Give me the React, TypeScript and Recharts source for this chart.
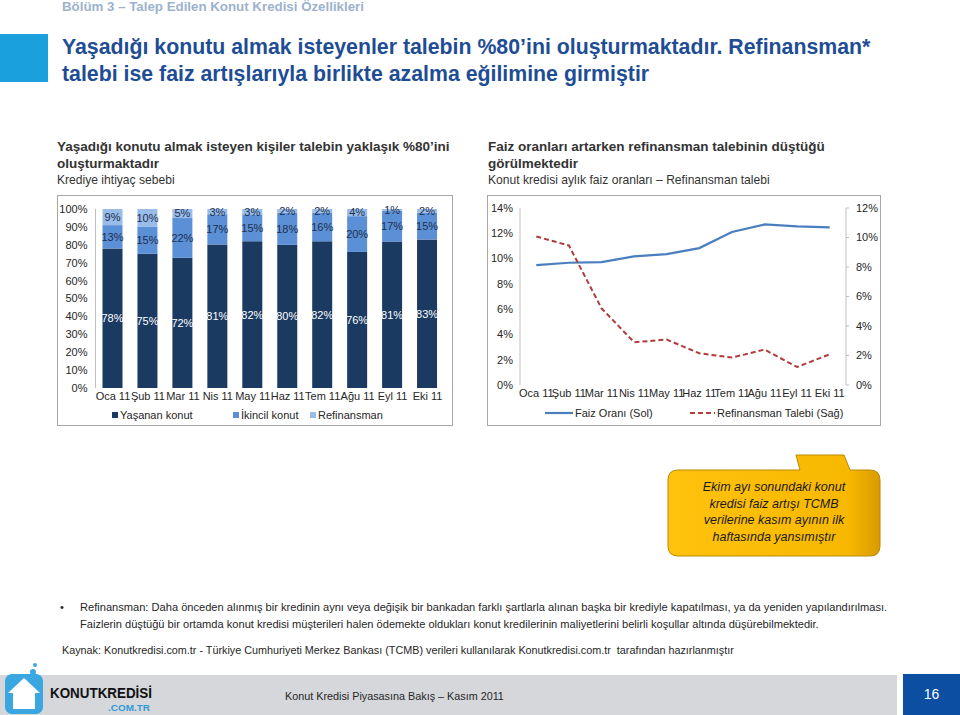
import React from 'react';
import { BarChart, Bar, XAxis, YAxis, LabelList, LineChart, Line } from 'recharts';

// months shared by both charts
const months = ['Oca 11', 'Şub 11', 'Mar 11', 'Nis 11', 'May 11', 'Haz 11', 'Tem 11', 'Ağu 11', 'Eyl 11', 'Eki 11'];

// Krediye ihtiyaç sebebi (%)
const yasananKonut = [78, 75, 72, 81, 82, 80, 82, 76, 81, 83];
const ikincilKonut = [13, 15, 22, 17, 15, 18, 16, 20, 17, 15];
const refinansman = [9, 10, 5, 3, 3, 2, 2, 4, 1, 2];
const barTicks = [0, 0.1, 0.2, 0.3, 0.4, 0.5, 0.6, 0.7, 0.8, 0.9, 1];

// Konut kredisi faiz oranı (sol) ve refinansman talebi (sağ), %
const faizOrani = [9.48, 9.67, 9.72, 10.17, 10.35, 10.83, 12.1, 12.7, 12.55, 12.47];
const refinansmanTalebi = [10.07, 9.46, 5.2, 2.9, 3.08, 2.15, 1.86, 2.4, 1.22, 2.08];
const leftTicks = [0, 2, 4, 6, 8, 10, 12, 14];
const rightTicks = [0, 2, 4, 6, 8, 10, 12];

const NAVY = '#1B3A62';
const MID = '#5B8FD6';
const LIGHT = '#99BCE8';
const FAIZ = '#4A7EBE';
const REF = '#B03C3C';

const barData = months.map((m, i) => ({
  month: m,
  yasanan: yasananKonut[i],
  ikincil: ikincilKonut[i],
  refinansman: refinansman[i],
}));

const lineData = months.map((m, i) => ({
  month: m,
  faiz: faizOrani[i],
  ref: refinansmanTalebi[i],
}));

const SANS = '"Liberation Sans", Arial, sans-serif';
const tickStyle = { fontSize: 11, fill: '#262626', fontFamily: SANS };

function ReasonChart() {
  return (
    <BarChart
      width={394}
      height={229}
      data={barData}
      stackOffset="expand"
      margin={{ top: 13, right: 7, left: 0, bottom: 17 }}
    >
      <XAxis dataKey="month" tick={tickStyle} tickLine={false} axisLine={false} tickSize={4} tickMargin={0} height={20} interval={0} />
      <YAxis
        domain={[0, 1]}
        ticks={barTicks}
        tickFormatter={(v) => `${Math.round(v * 100)}%`}
        tick={tickStyle}
        width={37.5}
        tickLine={false}
        tickSize={3}
        tickMargin={5}
        axisLine={{ stroke: '#BFBFBF' }}
        interval={0}
      />
      <Bar dataKey="yasanan" stackId="a" fill={NAVY} barSize={20} isAnimationActive={false}>
        <LabelList dataKey="yasanan" position="center" formatter={(v: any) => `${v}%`} fill="#FFFFFF" fontSize={11} fontFamily={SANS} />
      </Bar>
      <Bar dataKey="ikincil" stackId="a" fill={MID} barSize={20} isAnimationActive={false}>
        <LabelList dataKey="ikincil" position="center" formatter={(v: any) => `${v}%`} fill="#1B2F4F" fontSize={11} fontFamily={SANS} />
      </Bar>
      <Bar dataKey="refinansman" stackId="a" fill={LIGHT} barSize={20} isAnimationActive={false}>
        <LabelList dataKey="refinansman" position="center" formatter={(v: any) => `${v}%`} fill="#1B2F4F" fontSize={11} fontFamily={SANS} />
      </Bar>
    </BarChart>
  );
}

function RateChart() {
  return (
    <LineChart width={392} height={229} data={lineData} margin={{ top: 12, right: 0, left: 0, bottom: 20 }}>
      <XAxis
        dataKey="month"
        tick={tickStyle}
        tickLine={false}
        axisLine={false}
        tickSize={4}
        tickMargin={0}
        height={20}
        interval={0}
        padding={{ left: 16.3, right: 16.3 }}
      />
      <YAxis
        yAxisId="left"
        domain={[0, 14]}
        ticks={leftTicks}
        tickFormatter={(v) => `${v}%`}
        tick={tickStyle}
        width={32}
        tickLine={false}
        tickSize={3}
        tickMargin={4}
        axisLine={{ stroke: '#BFBFBF' }}
        interval={0}
      />
      <YAxis
        yAxisId="right"
        orientation="right"
        domain={[0, 12]}
        ticks={rightTicks}
        tickFormatter={(v) => `${v}%`}
        tick={tickStyle}
        width={34}
        tickLine={{ stroke: '#BFBFBF' }}
        tickSize={3}
        tickMargin={7}
        axisLine={{ stroke: '#BFBFBF' }}
        interval={0}
      />
      <Line yAxisId="left" dataKey="faiz" stroke={FAIZ} strokeWidth={2.2} dot={false} isAnimationActive={false} />
      <Line yAxisId="right" dataKey="ref" stroke={REF} strokeWidth={2} strokeDasharray="5 3" dot={false} isAnimationActive={false} />
    </LineChart>
  );
}

const abs = (left: number, top: number, extra: React.CSSProperties = {}): React.CSSProperties => ({
  position: 'absolute',
  left,
  top,
  ...extra,
});

export default function App() {
  return (
    <div style={{ position: 'absolute', left: 0, top: 0, width: 960, height: 715, background: '#FFFFFF', fontFamily: SANS, overflow: 'hidden' }}>
      {/* header */}
      <div style={abs(62, -1, { fontSize: 13.3, fontWeight: 'bold', color: '#9CB2CD', lineHeight: '16px' })}>
        Bölüm 3 – Talep Edilen Konut Kredisi Özellikleri
      </div>
      <div style={abs(0, 34, { width: 48, height: 48, background: '#1AA0DC' })} />
      <div style={abs(62, 34, { fontSize: 21.3, fontWeight: 'bold', color: '#1E4D95', lineHeight: '27px', width: 890, whiteSpace: 'nowrap' })}>
        Yaşadığı konutu almak isteyenler talebin %80’ini oluşturmaktadır. Refinansman*
        <br />
        talebi ise faiz artışlarıyla birlikte azalma eğilimine girmiştir
      </div>

      {/* sub titles */}
      <div style={abs(57, 138, { color: '#333333', lineHeight: '17px', whiteSpace: 'nowrap' })}>
        <div style={{ fontWeight: 'bold', fontSize: 13.5 }}>Yaşadığı konutu almak isteyen kişiler talebin yaklaşık %80’ini</div>
        <div style={{ fontWeight: 'bold', fontSize: 13.5 }}>oluşturmaktadır</div>
        <div style={{ fontSize: 12.1 }}>Krediye ihtiyaç sebebi</div>
      </div>
      <div style={abs(488, 138, { color: '#333333', lineHeight: '17px', whiteSpace: 'nowrap' })}>
        <div style={{ fontWeight: 'bold', fontSize: 13.5 }}>Faiz oranları artarken refinansman talebinin düştüğü</div>
        <div style={{ fontWeight: 'bold', fontSize: 13.5 }}>görülmektedir</div>
        <div style={{ fontSize: 12.1 }}>Konut kredisi aylık faiz oranları – Refinansman talebi</div>
      </div>

      {/* chart boxes */}
      <div style={abs(57, 195, { width: 394, height: 229, border: '1px solid #A6A6A6' })} />
      <div style={abs(487, 195, { width: 392, height: 229, border: '1px solid #A6A6A6' })} />

      <div style={abs(58, 196)}>
        <ReasonChart />
      </div>
      <div style={abs(488, 196)}>
        <RateChart />
      </div>

      {/* bar legend */}
      <div style={abs(112, 408, { fontSize: 11, color: '#262626', lineHeight: '14px' })}>
        <span style={abs(0, 4, { width: 6, height: 6, background: NAVY })} />
        <span style={abs(8, 0, { whiteSpace: 'nowrap' })}>Yaşanan konut</span>
        <span style={abs(121, 4, { width: 6, height: 6, background: MID })} />
        <span style={abs(129, 0, { whiteSpace: 'nowrap' })}>İkincil konut</span>
        <span style={abs(198, 4, { width: 6, height: 6, background: LIGHT })} />
        <span style={abs(206, 0, { whiteSpace: 'nowrap' })}>Refinansman</span>
      </div>

      {/* line legend */}
      <svg style={abs(545, 409)} width={200} height={10}>
        <line x1={0} y1={4} x2={28} y2={4} stroke={FAIZ} strokeWidth={2.2} />
        <line x1={145} y1={4} x2={170} y2={4} stroke={REF} strokeWidth={2} strokeDasharray="5 3" />
      </svg>
      <div style={abs(575, 406, { fontSize: 11, color: '#262626', lineHeight: '14px', whiteSpace: 'nowrap' })}>Faiz Oranı (Sol)</div>
      <div style={abs(717, 406, { fontSize: 11, color: '#262626', lineHeight: '14px', whiteSpace: 'nowrap' })}>Refinansman Talebi (Sağ)</div>

      {/* callout */}
      <svg style={abs(660, 445)} width={240} height={120}>
        <defs>
          <linearGradient id="cg" x1="0" y1="0" x2="1" y2="0">
            <stop offset="0" stopColor="#FFC20E" />
            <stop offset="0.85" stopColor="#F8B800" />
            <stop offset="1" stopColor="#D99A00" />
          </linearGradient>
        </defs>
        <path
          d="M18 25 L140 25 L136 10 L184 10 L190 25 L210 25 Q220 25 220 35 L220 101 Q220 111 210 111 L18 111 Q8 111 8 101 L8 35 Q8 25 18 25 Z"
          fill="url(#cg)"
          stroke="#B88A00"
          strokeWidth={1}
        />
      </svg>
      <div
        style={abs(668, 479, {
          width: 212,
          textAlign: 'center',
          fontSize: 12.5,
          fontStyle: 'italic',
          color: '#1A1A1A',
          lineHeight: '16.5px',
        })}
      >
        Ekim ayı sonundaki konut
        <br />
        kredisi faiz artışı TCMB
        <br />
        verilerine kasım ayının ilk
        <br />
        haftasında yansımıştır
      </div>

      {/* notes */}
      <div style={abs(60, 599, { fontSize: 11.1, color: '#262626', lineHeight: '17px', whiteSpace: 'nowrap' })}>
        <div>
          <span style={{ display: 'inline-block', width: 20 }}>•</span>
          Refinansman: Daha önceden alınmış bir kredinin aynı veya değişik bir bankadan farklı şartlarla alınan başka bir krediyle kapatılması, ya da yeniden yapılandırılması.
        </div>
        <div style={{ paddingLeft: 20 }}>
          Faizlerin düştüğü bir ortamda konut kredisi müşterileri halen ödemekte oldukları konut kredilerinin maliyetlerini belirli koşullar altında düşürebilmektedir.
        </div>
      </div>
      <div style={abs(62, 642, { fontSize: 10.8, color: '#262626', lineHeight: '17px', whiteSpace: 'nowrap' })}>
        Kaynak: Konutkredisi.com.tr - Türkiye Cumhuriyeti Merkez Bankası (TCMB) verileri kullanılarak Konutkredisi.com.tr&nbsp; tarafından hazırlanmıştır
      </div>

      {/* footer */}
      <div style={abs(0, 675, { width: 897, height: 40, background: '#D5D7DB' })} />
      <div style={abs(903, 674, { width: 57, height: 41, background: '#0B4EA2', color: '#FFFFFF', fontSize: 14, lineHeight: '41px', textAlign: 'center' })}>
        16
      </div>
      <div style={abs(285, 688, { fontSize: 10.8, color: '#262626', lineHeight: '16px', whiteSpace: 'nowrap' })}>
        Konut Kredisi Piyasasına Bakış – Kasım 2011
      </div>
      <svg style={abs(0, 660)} width={220} height={55}>
        <circle cx={35} cy={5} r={2} fill="#3AA7E0" />
        <circle cx={33} cy={12} r={3} fill="#3AA7E0" />
        <rect x={5} y={14} width={38} height={40} rx={7} fill="#3AA7E0" />
        <path d="M24 18 L40 33 L35 33 L35 49 L13 49 L13 33 L8 33 Z" fill="#FFFFFF" />
        <text x={50} y={38} fontSize={15.5} fontWeight="bold" fill="#111111" textLength={102} lengthAdjust="spacingAndGlyphs">KONUTKREDİSİ</text>
        <text x={108} y={51} fontSize={9.5} fontWeight="bold" fill="#2E9BD6" textLength={42} lengthAdjust="spacingAndGlyphs">.COM.TR</text>
      </svg>
    </div>
  );
}
